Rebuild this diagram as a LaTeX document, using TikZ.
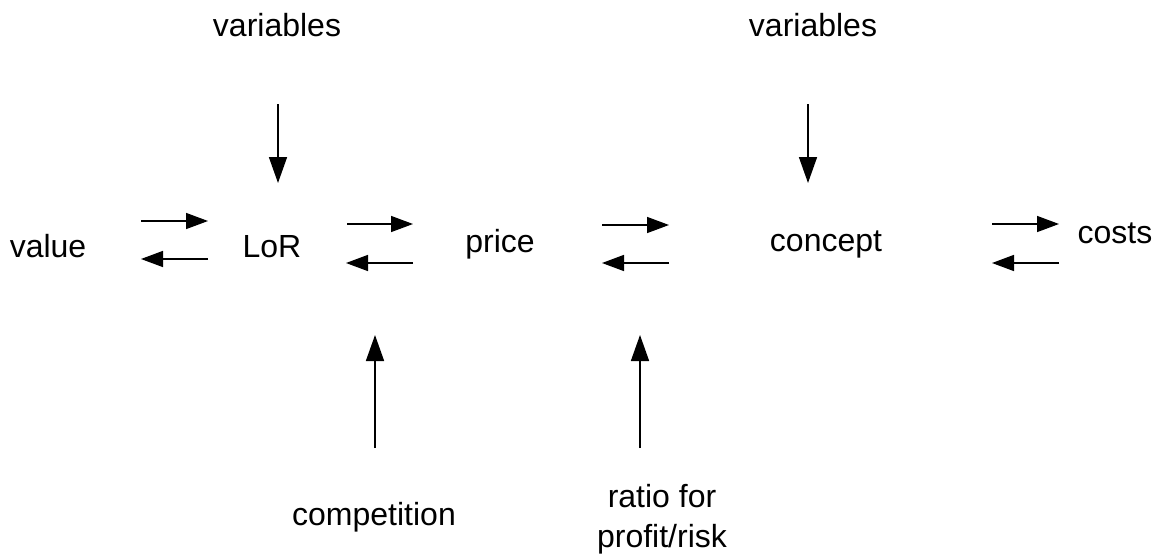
\documentclass[tikz,border=0pt]{standalone}
\usepackage{fontspec}
\setmainfont{Liberation Sans}
\usetikzlibrary{arrows.meta}
\tikzset{
  lbl/.style={inner sep=0pt, anchor=base, font=\fontsize{32}{35}\selectfont, align=center},
  harr/.style={line width=1.5pt, -{Triangle[length=22pt,width=16pt]}},
  varr/.style={line width=1.6pt, -{Triangle[length=26pt,width=18pt]}},
}
\begin{document}
\begin{tikzpicture}[x=1pt,y=-1pt]
\useasboundingbox (0,0) rectangle (1159,557);
% labels
\node[lbl] (var1) at (277,36) {variables};
\node[lbl] (var2) at (813,36) {variables};
\node[lbl] (value) at (48,257) {value};
\node[lbl] (lor) at (272,257) {LoR};
\node[lbl] (price) at (500,252) {price};
\node[lbl] (concept) at (826,251) {concept};
\node[lbl] (costs) at (1115,243) {costs};
\node[lbl] (comp) at (374,525) {competition};
\node[lbl, anchor=center, font=\fontsize{32}{40}\selectfont] (ratio) at (662,519) {ratio for\\profit/risk};
% vertical arrow ends
\coordinate (v1a) at (278,104); \coordinate (v1b) at (278,183);
\coordinate (v2a) at (808,104); \coordinate (v2b) at (808,183);
\coordinate (u1a) at (375,448); \coordinate (u1b) at (375,335);
\coordinate (u2a) at (640,448); \coordinate (u2b) at (640,335);
% horizontal arrow ends
\coordinate (p1a) at (141,221); \coordinate (p1b) at (208,221);
\coordinate (p1c) at (208,259); \coordinate (p1d) at (141,259);
\coordinate (p2a) at (347,224); \coordinate (p2b) at (413,224);
\coordinate (p2c) at (413,263); \coordinate (p2d) at (346,263);
\coordinate (p3a) at (602,225); \coordinate (p3b) at (669,225);
\coordinate (p3c) at (669,263); \coordinate (p3d) at (602,263);
\coordinate (p4a) at (992,224); \coordinate (p4b) at (1059,224);
\coordinate (p4c) at (1059,263); \coordinate (p4d) at (992,263);
% arrows
\draw[varr] (v1a) -- (v1b);
\draw[varr] (v2a) -- (v2b);
\draw[varr] (u1a) -- (u1b);
\draw[varr] (u2a) -- (u2b);
\draw[harr] (p1a) -- (p1b);
\draw[harr] (p1c) -- (p1d);
\draw[harr] (p2a) -- (p2b);
\draw[harr] (p2c) -- (p2d);
\draw[harr] (p3a) -- (p3b);
\draw[harr] (p3c) -- (p3d);
\draw[harr] (p4a) -- (p4b);
\draw[harr] (p4c) -- (p4d);
\end{tikzpicture}
\end{document}
